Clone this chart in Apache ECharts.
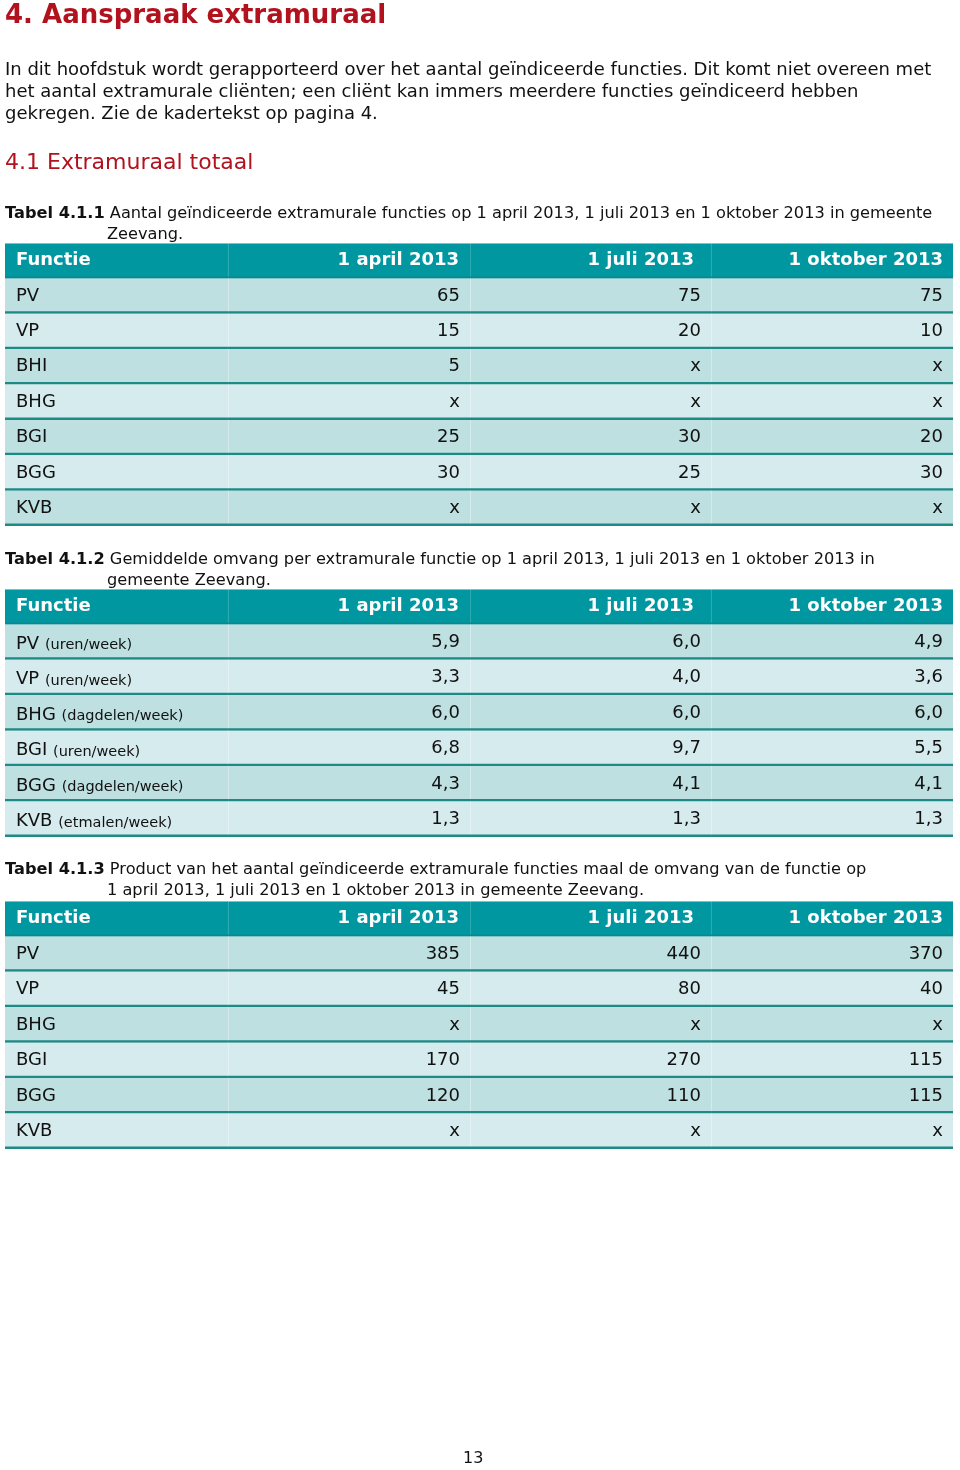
<!DOCTYPE html>
<html>
<head>
<meta charset="utf-8">
<script src="https://cdn.jsdelivr.net/npm/echarts@6/dist/echarts.min.js"></script>
<style>
html,body{margin:0;padding:0;background:#fff;}
#chart{width:960px;height:1470px;}
</style>
</head>
<body>
<div id="chart"></div>
<script>
// ---- Data ----
const dates = ['1 april 2013', '1 juli 2013', '1 oktober 2013'];
const headerFirst = 'Functie';

const t1Functies = ['PV', 'VP', 'BHI', 'BHG', 'BGI', 'BGG', 'KVB'];
const t1Apr = [65, 15, 5, null, 25, 30, null];
const t1Jul = [75, 20, null, null, 30, 25, null];
const t1Okt = [75, 10, null, null, 20, 30, null];

const t2Functies = ['PV', 'VP', 'BHG', 'BGI', 'BGG', 'KVB'];
const t2Units = ['uren/week', 'uren/week', 'dagdelen/week', 'uren/week', 'dagdelen/week', 'etmalen/week'];
const t2Apr = [5.9, 3.3, 6.0, 6.8, 4.3, 1.3];
const t2Jul = [6.0, 4.0, 6.0, 9.7, 4.1, 1.3];
const t2Okt = [4.9, 3.6, 6.0, 5.5, 4.1, 1.3];

const t3Functies = ['PV', 'VP', 'BHG', 'BGI', 'BGG', 'KVB'];
const t3Apr = [385, 45, null, 170, 120, null];
const t3Jul = [440, 80, null, 270, 110, null];
const t3Okt = [370, 40, null, 115, 115, null];

// ---- Layout / style constants ----
const FONT = '"DejaVu Sans", Verdana, sans-serif';
const colEdges = [0, 0.2352, 0.4905, 0.7447, 1];
const headPad = [11, 11, 17, 10];
const C_HEAD = '#0097A1';
const C_HEAD_DARK = '#0A8A90';
const C_DARK = '#BEE0E1';
const C_LIGHT = '#D6EBEE';
const C_SEP = '#1E8A86';
const C_RED = '#B2121E';

function fmtInt(v) { return v == null ? 'x' : String(v); }
function fmtDec(v) { return v == null ? 'x' : v.toFixed(1).replace('.', ','); }

function buildCells(functies, cols, fmt, units) {
  const cells = [];
  cells.push({ value: [0, 0], txt: headerFirst, head: true });
  dates.forEach((d, i) => cells.push({ value: [i + 1, 0], txt: d, head: true }));
  functies.forEach((f, r) => {
    cells.push({ value: [0, r + 1], txt: f, unit: units ? units[r] : null });
    cols.forEach((arr, c) => cells.push({ value: [c + 1, r + 1], txt: fmt(arr[r]) }));
  });
  return cells;
}

function makeRender(cells) {
  return function (params, api) {
    const cell = cells[params.dataIndex];
    const col = api.value(0), row = api.value(1);
    const pL = api.coord([colEdges[col], row]);
    const pR = api.coord([colEdges[col + 1], row]);
    const h = api.size([0, 1])[1];
    const x = pL[0], w = pR[0] - pL[0];
    const top = pL[1] - h / 2;
    const cy = pL[1];
    const children = [];
    const fill = cell.head ? C_HEAD : (row % 2 === 1 ? C_DARK : C_LIGHT);
    children.push({ type: 'rect', shape: { x: x, y: top, width: w, height: h }, style: { fill: fill } });
    if (col > 0) {
      children.push({ type: 'rect', shape: { x: x, y: top, width: 1, height: h },
        style: { fill: cell.head ? 'rgba(255,255,255,0.18)' : 'rgba(255,255,255,0.35)' } });
    }
    if (cell.head) {
      children.push({ type: 'rect', shape: { x: x, y: top, width: w, height: 1 }, style: { fill: 'rgba(255,255,255,0.45)' } });
      children.push({ type: 'rect', shape: { x: x, y: top + h - 2, width: w, height: 2 }, style: { fill: C_HEAD_DARK } });
    } else {
      children.push({ type: 'rect', shape: { x: x, y: top + h - 2.5, width: w, height: 2.5 }, style: { fill: C_SEP } });
    }
    const isLeft = col === 0;
    const pad = cell.head ? headPad[col] : (isLeft ? 11 : 10);
    const textStyle = {
      x: isLeft ? x + pad : x + w - pad,
      y: cy,
      align: isLeft ? 'left' : 'right',
      verticalAlign: 'middle',
      fontFamily: FONT,
      fontSize: 18,
      fontWeight: cell.head ? 'bold' : 'normal',
      fill: cell.head ? '#ffffff' : '#111111'
    };
    if (cell.unit) {
      textStyle.text = '{a|' + cell.txt + '} {b|(' + cell.unit + ')}';
      textStyle.rich = {
        a: { fontFamily: FONT, fontSize: 18, fill: '#111', verticalAlign: 'bottom', lineHeight: 22 },
        b: { fontFamily: FONT, fontSize: 14.5, fill: '#111', verticalAlign: 'bottom', lineHeight: 20 }
      };
    } else {
      textStyle.text = cell.txt;
    }
    children.push({ type: 'text', style: textStyle });
    return { type: 'group', children: children };
  };
}

const tables = [
  { top: 243, height: 283, functies: t1Functies, cols: [t1Apr, t1Jul, t1Okt], fmt: fmtInt },
  { top: 589, height: 248, functies: t2Functies, cols: [t2Apr, t2Jul, t2Okt], fmt: fmtDec, units: t2Units },
  { top: 901, height: 248, functies: t3Functies, cols: [t3Apr, t3Jul, t3Okt], fmt: fmtInt }
];

const grid = [], xAxis = [], yAxis = [], series = [];
tables.forEach((t, i) => {
  grid.push({ left: 5, right: 7, top: t.top, height: t.height, containLabel: false });
  xAxis.push({ type: 'value', gridIndex: i, min: 0, max: 1, show: false });
  yAxis.push({ type: 'category', gridIndex: i, inverse: true, show: false,
    data: [headerFirst].concat(t.functies) });
  const cells = buildCells(t.functies, t.cols, t.fmt, t.units);
  series.push({
    type: 'custom', xAxisIndex: i, yAxisIndex: i, silent: true,
    renderItem: makeRender(cells),
    data: cells.map(c => ({ value: c.value }))
  });
});

function txt(x, y, text, size, opts) {
  return { type: 'text', left: x, top: y, silent: true,
    style: Object.assign({ text: text, fontFamily: FONT, fontSize: size, fill: '#111' }, opts || {}) };
}
function caption(y, label, line1, line2) {
  return {
    type: 'text', left: 5, top: y, silent: true,
    style: {
      text: '{b|' + label + '} ' + line1 + '\n{i|}' + line2,
      fontFamily: FONT, fontSize: 16.2, fill: '#111', lineHeight: 21,
      rich: { b: { fontFamily: FONT, fontSize: 16.2, fontWeight: 'bold', fill: '#111' },
              i: { width: 102 } }
    }
  };
}

const graphic = [
  txt(5, 3, '4. Aanspraak extramuraal', 26, { fontWeight: 'bold', fill: C_RED }),
  { type: 'text', left: 5, top: 59, silent: true,
    style: { text: 'In dit hoofdstuk wordt gerapporteerd over het aantal geïndiceerde functies. Dit komt niet overeen met\nhet aantal extramurale cliënten; een cliënt kan immers meerdere functies geïndiceerd hebben\ngekregen. Zie de kadertekst op pagina 4.',
      fontFamily: FONT, fontSize: 18, lineHeight: 22, fill: '#111' } },
  txt(5, 152, '4.1 Extramuraal totaal', 22, { fill: C_RED }),
  caption(203, 'Tabel 4.1.1', 'Aantal geïndiceerde extramurale functies op 1 april 2013, 1 juli 2013 en 1 oktober 2013 in gemeente', 'Zeevang.'),
  caption(549, 'Tabel 4.1.2', 'Gemiddelde omvang per extramurale functie op 1 april 2013, 1 juli 2013 en 1 oktober 2013 in', 'gemeente Zeevang.'),
  caption(859, 'Tabel 4.1.3', 'Product van het aantal geïndiceerde extramurale functies maal de omvang van de functie op', '1 april 2013, 1 juli 2013 en 1 oktober 2013 in gemeente Zeevang.'),
  txt(463, 1451, '13', 16)
];

const chart = echarts.init(document.getElementById('chart'), null, { renderer: 'canvas' });
chart.setOption({
  animation: false,
  backgroundColor: '#ffffff',
  grid: grid, xAxis: xAxis, yAxis: yAxis, series: series,
  graphic: graphic
});
</script>
</body>
</html>
